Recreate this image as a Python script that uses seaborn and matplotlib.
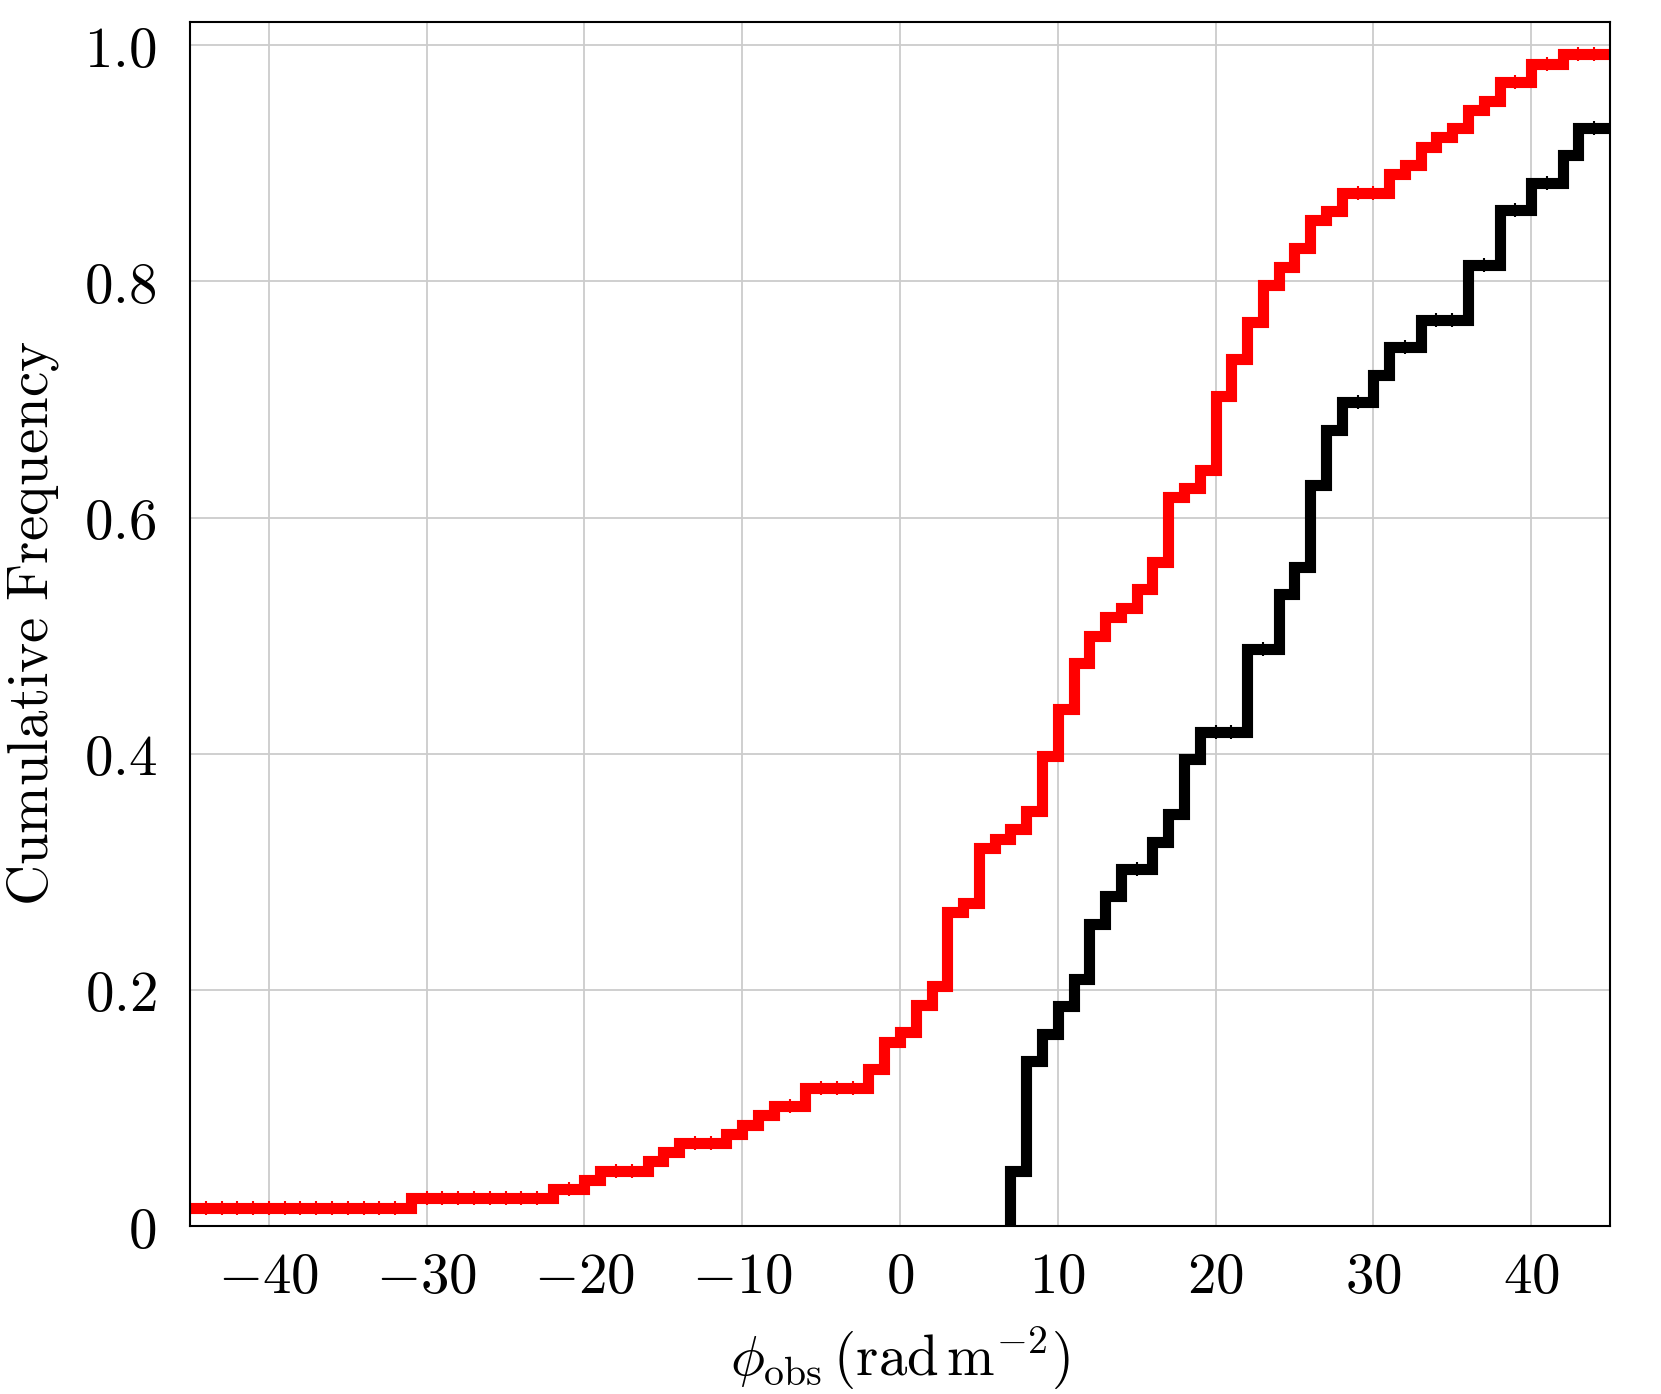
import numpy as np
import pandas as pd
import seaborn as sns
import matplotlib.pyplot as plt

# cumulative histograms, 1 rad m^-2 bins: left bin edge and number of sources in that bin
# (only non-empty bins listed; -46 stands for the sources left of the plotted range)
red_edges = [-46,
             -31, -22, -20, -19, -16, -15, -14, -11, -10, -9, -8,
             -6, -2, -1,
             0, 1, 2, 3, 4, 5, 6, 7, 8, 9, 10, 11, 12, 13, 14,
             15, 16, 17, 18, 19, 20, 21, 22, 23, 24, 25, 26, 27, 28,
             31, 32, 33, 34, 35, 36, 37, 38,
             40, 42]
red_counts = [2,
              1, 1, 1, 1, 1, 1, 1, 1, 1, 1, 1,
              2, 2, 3,
              1, 3, 2, 8, 1, 6, 1, 1, 2, 6, 5, 5, 3, 2, 1,
              2, 3, 7, 1, 2, 8, 4, 4, 4, 2, 2, 3, 1, 2,
              2, 1, 2, 1, 1, 2, 1, 2,
              2, 1]
red_total = 128

black_edges = [7, 8, 9, 10, 11, 12, 13, 14, 16, 17, 18, 19, 22, 24, 25,
               26, 27, 28, 30, 31, 33, 36, 38, 40, 42, 43]
black_counts = [2, 4, 1, 1, 1, 2, 1, 1, 1, 1, 2, 1, 3, 2, 1,
                3, 2, 1, 1, 1, 1, 2, 2, 1, 1, 1]
black_total = 43

x_ticks = [-40, -30, -20, -10, 0, 10, 20, 30, 40]
x_ticklabels = ['$-40$', '$-30$', '$-20$', '$-10$', '$0$', '$10$', '$20$', '$30$', '$40$']
y_ticks = [0, 0.2, 0.4, 0.6, 0.8, 1.0]
y_ticklabels = ['$0$', '$0.2$', '$0.4$', '$0.6$', '$0.8$', '$1.0$']

sns.set_theme(style="whitegrid")
plt.rcParams['mathtext.fontset'] = 'cm'
plt.rcParams['axes.edgecolor'] = 'black'
plt.rcParams['axes.linewidth'] = 1.5
plt.rcParams['grid.color'] = '#cccccc'
plt.rcParams['grid.linewidth'] = 1.3

fig, ax = plt.subplots(figsize=(16.61, 13.94), dpi=100)
fig.subplots_adjust(left=0.1144, right=0.9693, bottom=0.1205, top=0.9845)


def cumulative(edges, counts, total):
    grid = np.arange(edges[0], 45)
    per_bin = pd.Series(counts, index=edges).reindex(grid, fill_value=0)
    cum = per_bin.cumsum().values / total
    xs = np.r_[grid[0], grid, 46]
    ys = np.r_[0, cum, cum[-1]]
    flat = (per_bin.values == 0)
    return xs, ys, grid[flat], cum[flat]


for edges, counts, total, col in [(black_edges, black_counts, black_total, 'black'),
                                  (red_edges, red_counts, red_total, 'red')]:
    xs, ys, fx, fy = cumulative(edges, counts, total)
    sns.lineplot(x=xs, y=ys, estimator=None, sort=False, drawstyle='steps-post',
                 color=col, linewidth=8, solid_joinstyle='miter', ax=ax)
    sns.scatterplot(x=fx, y=fy, marker='|', s=110, linewidth=1.5, color=col, ax=ax)

ax.set_xlim(-45, 45)
ax.set_ylim(0, 1.02)
ax.set_xticks(x_ticks)
ax.set_xticklabels(x_ticklabels)
ax.set_yticks(y_ticks)
ax.set_yticklabels(y_ticklabels)
ax.tick_params(axis='both', direction='inout', length=8, width=1.5, color='black',
               labelsize=41, labelcolor='black')
ax.tick_params(axis='x', pad=13)
ax.tick_params(axis='y', pad=20)

ax.set_ylabel(r'$\mathrm{Cumulative\ Frequency}$', fontsize=41, color='black')
ax.set_xlabel(r'$\phi_{\mathrm{obs}}\,(\mathrm{rad\,m^{-2}})$', fontsize=41, color='black')
ax.yaxis.set_label_coords(-0.091, 0.5)
ax.xaxis.set_label_coords(0.5, -0.082)

plt.savefig("out.png", dpi=100)
